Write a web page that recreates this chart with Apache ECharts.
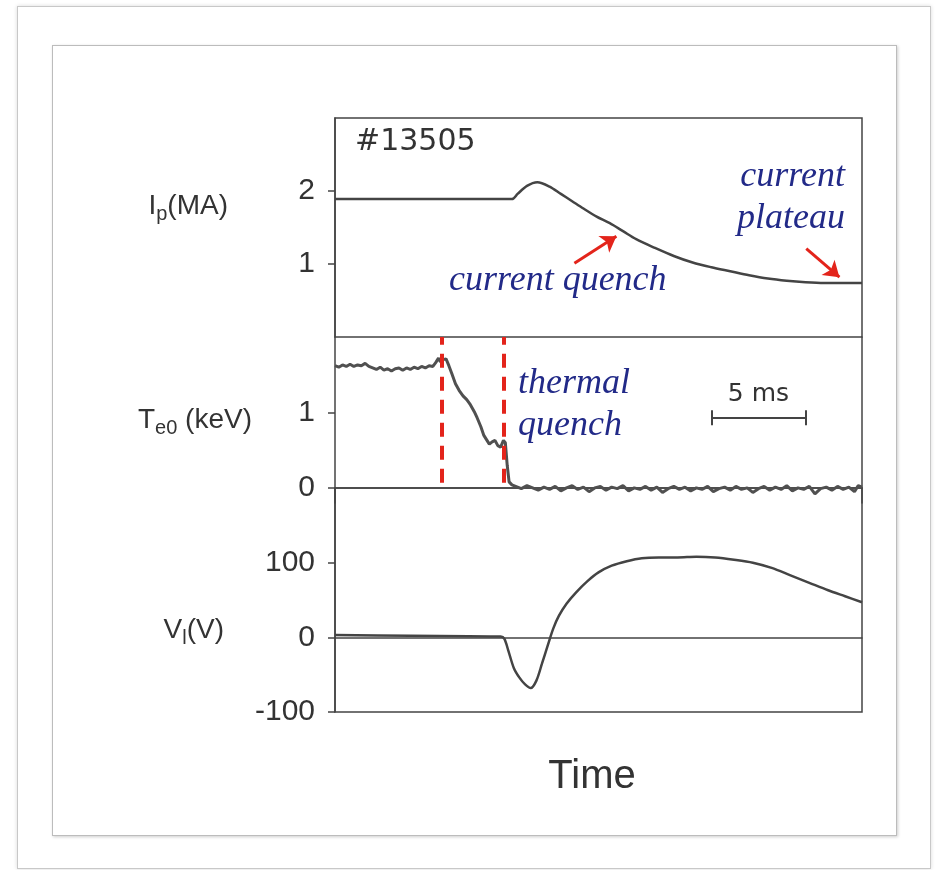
<!DOCTYPE html>
<html>
<head>
<meta charset="utf-8">
<title>#13505 disruption</title>
<script src="https://cdn.jsdelivr.net/npm/echarts@6/dist/echarts.min.js"></script>
<style>
html, body { margin: 0; padding: 0; background: #fff; }
.outer { position: absolute; left: 17px; top: 6px; width: 912px; height: 861px; border: 1px solid #c8c8c8; box-shadow: 0 0 4px rgba(0,0,0,.15); }
.inner { position: absolute; left: 52px; top: 45px; width: 843px; height: 789px; border: 1px solid #bcbcbc; box-shadow: 1px 1px 3px rgba(0,0,0,.2); }
#main { position: absolute; left: 0; top: 0; width: 936px; height: 870px; }
</style>
</head>
<body>
<div class="outer"></div>
<div class="inner"></div>
<div id="main"></div>
<script>
// time in ms
var ipTime = [0, 9.4, 9.7, 10.2, 10.75, 11.4, 12.0, 12.6, 13.2, 13.9, 14.6, 15.3, 16.0, 17.0, 18.0, 19.0, 20.0, 21.0, 22.0, 23.0, 24.0, 25.0, 26.0, 27.0, 28.0];
var ipValue = [1.89, 1.89, 1.96, 2.07, 2.12, 2.06, 1.96, 1.86, 1.76, 1.65, 1.56, 1.45, 1.34, 1.22, 1.11, 1.02, 0.955, 0.90, 0.845, 0.80, 0.77, 0.75, 0.74, 0.74, 0.74];

var teTime = [0, 0.2, 0.4, 0.6, 0.8, 1.0, 1.2, 1.4, 1.6, 1.8, 2.0, 2.2, 2.4, 2.6, 2.8, 3.0, 3.2, 3.4, 3.6, 3.8,
  4.0, 4.2, 4.4, 4.6, 4.8, 5.0, 5.2, 5.35, 5.5, 5.6, 5.75, 5.9, 6.05, 6.2, 6.4, 6.6, 6.8, 7.0, 7.2, 7.4,
  7.55, 7.75, 7.9, 8.05, 8.2, 8.35, 8.5, 8.65, 8.8, 8.95, 9.05, 9.15, 9.25, 9.4,
  9.6, 9.9, 10.2, 10.5, 10.8, 11.1, 11.4, 11.7, 12.0, 12.3, 12.6, 12.9, 13.2, 13.5, 13.8, 14.1, 14.4, 14.7,
  15.0, 15.3, 15.6, 15.9, 16.2, 16.5, 16.8, 17.1, 17.4, 17.7, 18.0, 18.3, 18.6, 18.9, 19.2, 19.5, 19.8,
  20.1, 20.4, 20.7, 21.0, 21.3, 21.6, 21.9, 22.2, 22.5, 22.8, 23.1, 23.4, 23.7, 24.0, 24.3, 24.6, 24.9,
  25.2, 25.5, 25.8, 26.1, 26.4, 26.7, 27.0, 27.3, 27.6, 27.8, 28.0];
var teValue = [1.62, 1.60, 1.63, 1.61, 1.64, 1.61, 1.63, 1.62, 1.65, 1.61, 1.59, 1.57, 1.60, 1.56, 1.58, 1.55, 1.58, 1.59, 1.56, 1.59,
  1.57, 1.60, 1.58, 1.61, 1.59, 1.62, 1.61, 1.66, 1.72, 1.67, 1.70, 1.71, 1.62, 1.52, 1.38, 1.29, 1.22, 1.17, 1.10, 1.01,
  0.93, 0.81, 0.70, 0.64, 0.58, 0.61, 0.63, 0.56, 0.54, 0.63, 0.60, 0.30, 0.08, 0.04,
  0.02, -0.01, 0.03, 0.00, -0.03, 0.01, -0.02, 0.02, -0.04, 0.00, 0.03, -0.02, 0.01, -0.05, 0.00, 0.02, -0.03, 0.01,
  -0.01, 0.03, -0.04, 0.00, -0.02, 0.02, -0.03, 0.01, -0.06, -0.01, 0.02, -0.02, 0.01, -0.04, 0.00, -0.02, 0.02,
  -0.05, -0.01, 0.01, -0.03, 0.02, -0.02, 0.00, -0.06, -0.01, 0.02, -0.03, 0.01, -0.02, 0.03, -0.04, 0.00, -0.02,
  0.02, -0.08, -0.01, 0.01, -0.03, 0.02, -0.02, 0.01, -0.05, 0.03, 0.01];

var vTime = [0, 4.0, 8.8, 9.0, 9.2, 9.5, 9.8, 10.1, 10.4, 10.7, 11.0, 11.3, 11.6, 11.9, 12.3, 12.8, 13.4, 14.0, 14.7, 15.5, 16.3,
  17.2, 18.2, 19.2, 20.2, 21.2, 22.2, 23.2, 24.2, 25.2, 26.2, 27.1, 28.0];
var vValue = [3, 2, 1, -2, -17, -41, -54, -63, -68, -58, -35, -11, 12, 29, 45, 60, 75, 87, 96, 102, 106,
  107, 107, 108, 107, 104, 100, 93, 83, 73, 63, 55, 47];

var ipTicks = [1, 2];
var teTicks = [0, 1];
var vTicks = [-100, 0, 100];

function pairs(t, v) {
  var out = [];
  for (var i = 0; i < t.length; i++) out.push([t[i], v[i]]);
  return out;
}

var ink = '#444';
var labelFont = 'Liberation Sans, Arial, sans-serif';
var noteBlue = '#222a88';
var noteRed = '#e3241b';

function yAx(gridIndex, min, max, ticks) {
  return {
    type: 'value', gridIndex: gridIndex, min: min, max: max,
    axisLine: { show: true, lineStyle: { color: ink, width: 1.5 } },
    axisTick: { show: true, length: 7, customValues: ticks, lineStyle: { color: ink, width: 1.5 } },
    axisLabel: { customValues: ticks, margin: 20, fontSize: 30, color: '#333', fontFamily: labelFont },
    splitLine: { show: false }
  };
}
function yRight(gridIndex, min, max) {
  return {
    type: 'value', gridIndex: gridIndex, min: min, max: max, position: 'right',
    axisLine: { show: true, lineStyle: { color: ink, width: 1.5 } },
    axisTick: { show: false }, axisLabel: { show: false }, splitLine: { show: false }
  };
}
function xAx(gridIndex, showLine) {
  return {
    type: 'value', gridIndex: gridIndex, min: 0, max: 28,
    axisLine: { show: showLine, onZero: true, lineStyle: { color: ink, width: 1.5 } },
    axisTick: { show: false }, axisLabel: { show: false }, splitLine: { show: false }
  };
}
function nameText(x, y, text) {
  return {
    type: 'text', x: x, y: y,
    style: {
      text: text, align: 'right', verticalAlign: 'middle',
      rich: {
        a: { fontSize: 28, fontFamily: labelFont, fill: '#333', verticalAlign: 'middle' },
        s: { fontSize: 20, fontFamily: labelFont, fill: '#333', verticalAlign: 'middle', padding: [16, 0, 0, 0] }
      }
    }
  };
}
function note(x, y, text, align) {
  return {
    type: 'text', x: x, y: y,
    style: {
      text: text, align: align, verticalAlign: 'middle',
      font: 'italic 36px "Liberation Serif", "Times New Roman", serif',
      fill: noteBlue, lineHeight: 42
    }
  };
}

var myChart = echarts.init(document.getElementById('main'));

option = {
  animation: false,
  grid: [
    { left: 335, top: 118, width: 527, height: 219, show: true, borderColor: ink, borderWidth: 1.5 },
    { left: 335, top: 337, width: 527, height: 166 },
    { left: 335, top: 488, width: 527, height: 224, show: true, borderColor: ink, borderWidth: 1.5 }
  ],
  xAxis: [xAx(0, false), xAx(1, true), xAx(2, true)],
  yAxis: [
    yAx(0, 0, 3, ipTicks),
    yAx(1, -0.2, 2, teTicks),
    yRight(1, -0.2, 2),
    yAx(2, -100, 200, vTicks)
  ],
  graphic: [
    { type: 'text', x: 355, y: 142, style: { text: '#13505', align: 'left', verticalAlign: 'middle',
      font: '30px "DejaVu Sans", sans-serif', fill: '#333' } },
    nameText(228, 206, '{a|I}{s|p}{a|(MA)}'),
    nameText(252, 420, '{a|T}{s|e0}{a| (keV)}'),
    nameText(224, 630, '{a|V}{s|l}{a|(V)}'),
    { type: 'text', x: 592, y: 777, style: { text: 'Time', align: 'center', verticalAlign: 'middle',
      font: '40px "Liberation Sans", Arial, sans-serif', fill: '#333' } },
    note(449, 281, 'current quench', 'left'),
    note(845, 198, 'current\nplateau', 'right'),
    note(518, 405, 'thermal\nquench', 'left')
  ],
  series: [
    {
      name: 'Ip', type: 'line', xAxisIndex: 0, yAxisIndex: 0,
      data: pairs(ipTime, ipValue), smooth: 0.3, showSymbol: false,
      lineStyle: { color: ink, width: 2.5 },
      markLine: {
        silent: true, symbol: ['none', 'arrow'], symbolSize: 15,
        label: { show: false },
        lineStyle: { color: noteRed, width: 3, type: 'solid' },
        data: [
          [{ coord: [12.72, 1.01] }, { coord: [14.95, 1.38] }],
          [{ coord: [25.04, 1.21] }, { coord: [26.8, 0.82] }]
        ]
      }
    },
    {
      name: 'Te0', type: 'line', xAxisIndex: 1, yAxisIndex: 1,
      data: pairs(teTime, teValue), showSymbol: false,
      lineStyle: { color: '#505050', width: 3 },
      markLine: {
        silent: true, symbol: ['none', 'none'],
        label: { show: false },
        data: [
          [{ coord: [5.69, 0.07], lineStyle: { color: noteRed, width: 4, type: [14, 9] } }, { coord: [5.69, 2] }],
          [{ coord: [8.99, 0.07], lineStyle: { color: noteRed, width: 4, type: [14, 9] } }, { coord: [8.99, 2] }],
          [{ coord: [20, 0.93], lineStyle: { color: '#444', width: 2, type: 'solid' },
             label: { show: true, formatter: '5 ms', position: 'insideMiddleTop', distance: 11,
               fontSize: 25, color: '#333', fontFamily: 'DejaVu Sans, sans-serif' } },
           { coord: [25, 0.93] }],
          [{ coord: [20, 0.83], lineStyle: { color: '#444', width: 2, type: 'solid' } }, { coord: [20, 1.03] }],
          [{ coord: [25, 0.83], lineStyle: { color: '#444', width: 2, type: 'solid' } }, { coord: [25, 1.03] }]
        ]
      }
    },
    {
      name: 'Vl', type: 'line', xAxisIndex: 2, yAxisIndex: 3,
      data: pairs(vTime, vValue), smooth: 0.3, showSymbol: false,
      lineStyle: { color: ink, width: 2.5 }
    }
  ]
};

myChart.setOption(option);
window.addEventListener('resize', function () {
  myChart.resize();
});
</script>
</body>
</html>
